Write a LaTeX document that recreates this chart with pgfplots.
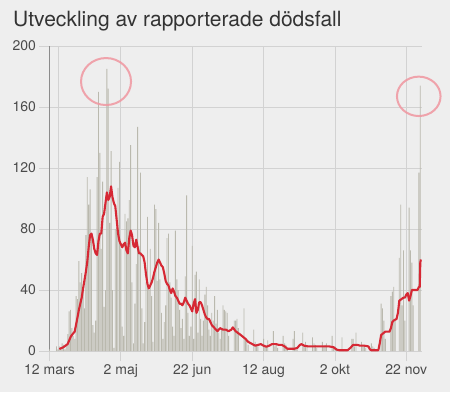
\documentclass[border=0pt]{standalone}
\usepackage{pgfplots}
\pgfplotsset{compat=1.18}
\usepackage{pgfplotstable}
\usepackage{fontspec}
\setmainfont{TeX Gyre Heros}
\definecolor{bg}{HTML}{EEEEEE}
\definecolor{gridc}{HTML}{D2D2D2}
\definecolor{axc}{HTML}{8C8C8C}
\definecolor{barc}{RGB}{186,185,174}
\definecolor{redl}{RGB}{214,40,52}
\definecolor{pinkc}{RGB}{240,150,160}
\definecolor{txt}{HTML}{333333}
\definecolor{tickc}{HTML}{4A4A4A}

\pgfplotstableread{
x y
0 1
5 3
6 1
7 3
8 1
9 5
10 4
11 1
12 4
13 11
14 26
15 27
16 15
17 10
18 8
19 36
20 34
21 59
22 45
23 51
24 40
25 28
26 76
27 114
28 96
29 106
30 77
31 17
32 12
33 20
34 114
35 170
36 130
37 67
38 111
39 29
40 40
41 185
42 172
43 84
44 131
45 40
46 2
47 80
48 81
49 107
50 124
51 67
52 16
53 10
54 90
55 85
56 87
57 99
58 135
59 45
60 5
61 31
62 57
63 147
64 69
65 117
66 28
67 5
68 19
69 45
70 88
71 40
72 67
73 36
74 6
75 96
76 93
77 46
78 84
79 47
80 25
81 8
82 19
83 30
84 74
85 77
86 45
87 35
88 16
89 10
90 79
91 47
92 40
93 27
94 15
95 21
96 8
97 49
98 102
99 25
100 10
101 16
102 69
103 8
104 50
105 52
106 12
107 47
108 21
109 10
110 20
111 37
112 42
113 30
114 14
115 10
116 25
117 20
118 36
119 18
120 27
121 12
122 8
123 15
124 30
125 27
126 26
127 25
128 10
132 20
133 20
134 21
135 15
139 28
140 8
141 8
142 4
146 14
147 6
148 4
149 3
153 8
154 4
155 3
156 7
160 13
161 3
162 5
163 2
167 10
168 5
169 4
170 2
174 8
175 13
176 2
177 1
181 12
182 4
183 6
184 3
188 9
189 5
190 4
191 2
195 6
196 3
197 4
198 5
202 10
203 2
204 3
205 2
209 9
210 1
212 1
216 8
217 8
218 3
219 12
223 6
224 4
225 3
226 2
230 5
231 3
232 2
233 1
237 31
238 28
239 20
240 8
244 36
245 39
246 42
247 20
250 61
251 96
252 30
253 66
254 20
257 94
258 66
259 58
260 30
264 117
265 174
}\bars

\pgfplotstableread{
x y
7 1.3
10 2.5
13 4.6
15 9
16 10.5
18 12.7
20 22
21 27
23 35
24 41
26 52
27 58.6
28 68
29 76
30 77
31 73
32 67
33 64
34 63
35 72
36 77
37 77
38 88
39 90
40 97
41 104
42 99
43 101
44 108
45 101
46 97
47 95
48 86
49 77
50 72
51 70
52 68
53 70
54 71
55 66
56 64
57 74
58 79
59 76
60 69
61 68
62 73
63 68
64 64
65 64
66 63
67 62
68 58
69 50
70 44
71 41
72 43
73 45
74 48
75 52
76 55
77 58
78 60
79 58
80 56
81 55
82 51
83 46
84 44
85 43
86 40
87 38
88 41
89 39
90 36
91 35
92 33
93 31
94 31
95 30
96 32
97 35
98 33
99 31
100 30
101 28
102 26
103 31
104 34
105 25
106 27
107 32
108 32
109 30
110 27
111 24
112 22
113 21
114 21
115 19
116 17
117 16
118 15
119 14
120 13
121 14
122 15
124 14
126 14
128 13
130 14
131 15.5
133 13
135 11.6
136 11
138 9.5
140 8
142 6
144 5
147 3.5
149 4
151 4.5
153 3.5
155 2.8
157 3.5
159 4.5
162 4.5
164 4
166 4
168 3
170 1.5
175 1.5
177 2
179 4
180 4.5
182 3.5
185 3
188 3
192 3
196 3
200 3
203 2.5
205 1
207 0.5
213 0.5
215 2
217 4
220 4
222 3.5
225 3.5
228 3
229 1
230 0.5
235 0.5
236 5
237 10.5
240 12.7
243 12.7
244 15
245 19
246 20
248 21
249 25
250 33
253 35
254 35
255 37
256 38
257 33
258 36
259 40
263 40
264 42
264.6 42
265 58
265.4 60
}\avg

\begin{document}
\begin{tikzpicture}
\fill[bg] (-49.5pt,-41pt) rectangle (400.5pt,351pt);
\node[anchor=base west, font=\fontsize{21}{25}\selectfont, text=txt, inner sep=0pt] at (-36.5pt,325pt) {Utveckling av rapporterade dödsfall};
\begin{axis}[
  at={(0pt,0pt)}, anchor=south west,
  scale only axis, width=372.2pt, height=305pt,
  xmin=0, xmax=266, ymin=0, ymax=200,
  axis x line*=bottom, axis y line*=left,
  x axis line style={draw=gridc, line width=0.8pt},
  y axis line style={draw=axc, line width=0.8pt},
  xtick={0,51,102,153,204,255},
  xticklabels={12 mars, 2 maj, 22 jun, 12 aug, 2 okt, 22 nov},
  ytick={0,40,80,120,160,200},
  extra x ticks={6.6}, extra x tick labels={},
  extra x tick style={grid=major, major tick length=0pt},
  grid=major, grid style={draw=gridc, line width=0.8pt},
  tick align=outside, major tick length=10pt,
  tick style={draw=gridc, line width=0.8pt},
  tick label style={font=\fontsize{14}{16}\selectfont, text=tickc},
  /pgf/number format/assume math mode=true,
  clip=false,
]
\addplot[ybar, bar width=0.62, fill=barc, draw=none] table {\bars};
\addplot[redl, line width=2.1pt, line join=round] table {\avg};
\draw[pinkc, line width=2pt, opacity=0.85] (axis cs:40.4,176.7) ellipse [x radius=25pt, y radius=23.5pt];
\draw[pinkc, line width=2pt, opacity=0.85] (axis cs:263.9,167) ellipse [x radius=21.8pt, y radius=19.7pt];
\end{axis}
\end{tikzpicture}
\end{document}
